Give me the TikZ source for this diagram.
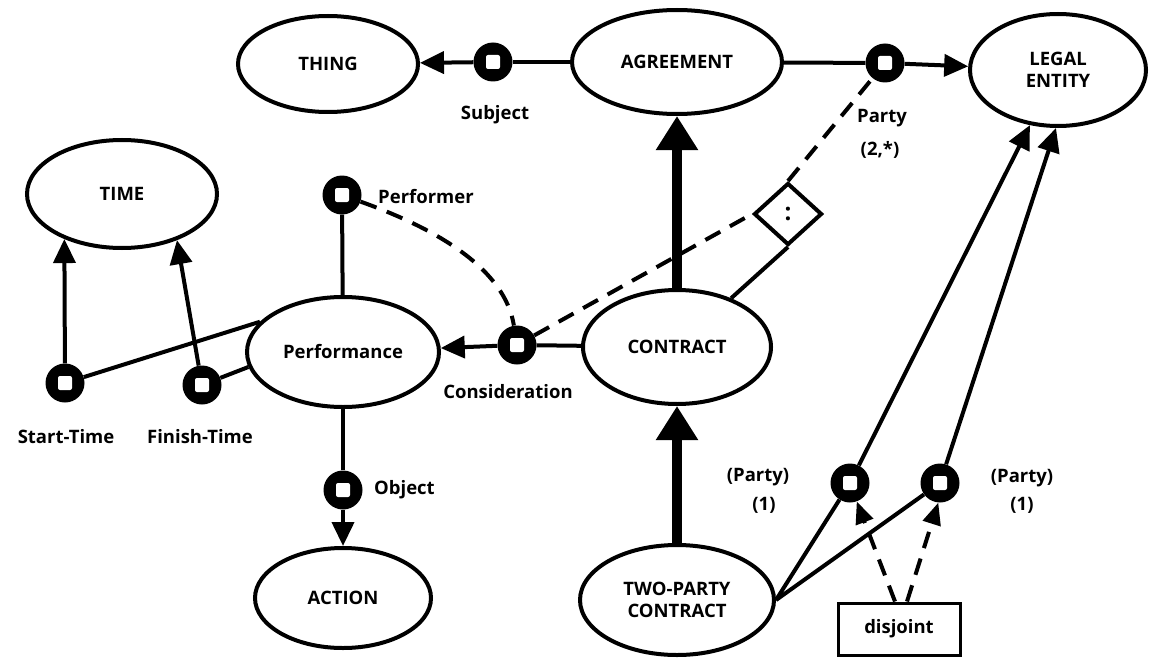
\documentclass[tikz,border=0pt]{standalone}
\usepackage{fontspec}
\setmainfont{Open Sans}
\usetikzlibrary{arrows.meta,shapes.geometric,calc}

\begin{document}
\begin{tikzpicture}[x=1pt,y=-1pt,
  txt/.style={font=\bfseries\fontsize{18.5}{22}\selectfont},
  lbl/.style={txt, inner sep=0pt},
  concept/.style={txt, draw, ellipse, line width=4pt, inner sep=0pt, align=center},
  role/.style={circle, fill=black, minimum size=39pt, inner sep=0pt,
    path picture={\fill[white,rounded corners=2pt]
      ([shift={(-7pt,-7pt)}]path picture bounding box.center) rectangle
      ([shift={(7pt,7pt)}]path picture bounding box.center);}},
  link/.style={line width=4pt},
  arr/.style={link, -{Triangle[length=24pt,width=22pt]}},
  isa/.style={line width=10.5pt, -{Triangle[length=34pt,width=40pt]}},
  dashline/.style={line width=4pt, dash pattern=on 17pt off 11pt},
  dasharr/.style={dashline, -{Triangle[length=22pt,width=18pt]}}]

% page
\fill[white] (0,0) rectangle (1161,658);
\useasboundingbox (0,0) rectangle (1161,658);

% concepts
\node[concept, minimum width=180pt, minimum height=96pt]  (thing) at (328,64)  {THING};
\node[concept, minimum width=210pt, minimum height=104pt] (agr)   at (677,62)  {AGREEMENT};
\node[concept, minimum width=176pt, minimum height=112pt] (le)    at (1058,70) {LEGAL\\ENTITY};
\node[concept, minimum width=190pt, minimum height=108pt] (time)  at (122,194) {TIME};
\node[concept, minimum width=192pt, minimum height=110pt] (perf)  at (343,352) {Performance};
\node[concept, minimum width=188pt, minimum height=114pt] (ct)    at (677,347) {CONTRACT};
\node[concept, minimum width=176pt, minimum height=100pt] (act)   at (343,598) {ACTION};
\node[concept, minimum width=194pt, minimum height=110pt] (tp)    at (677,600) {TWO-PARTY\\CONTRACT};

% relation (role) circles
\node[role] (subj) at (493,62)  {};
\node[role] (ptop) at (885,63)  {};
\node[role] (pfmr) at (342,195) {};
\node[role] (cons) at (517,345) {};
\node[role] (st)   at (65,383)  {};
\node[role] (ft)   at (202,385) {};
\node[role] (obj)  at (343,490) {};
\node[role] (pl)   at (850,483) {};
\node[role] (pr)   at (940,483) {};

% join diamond and disjointness box
\node[draw, diamond, line width=4pt, minimum width=68pt, minimum height=62pt, inner sep=0pt,
      font=\bfseries\fontsize{24}{24}\selectfont] (dm) at (788,214) {:};
\node[txt, draw, line width=3pt, minimum width=122pt, minimum height=52pt] (dj) at (899,629) {disjoint};

% AGREEMENT roles
\draw[link] (agr) -- (subj);
\draw[arr]  (subj) -- (thing);
\draw[link] (agr) -- (ptop);
\draw[arr]  (ptop) -- (le);

% subtype links
\draw[isa] (ct) -- (agr);
\draw[isa] (tp) -- (ct);

% CONTRACT / Performance
\draw[link] (ct) -- (cons);
\draw[arr]  (cons) -- (perf);
\draw[link] (perf) -- (pfmr);
\draw[dashline] (pfmr) .. controls (440,230) and (505,270) .. (cons);
\draw[dashline] (cons) -- (dm.west);
\draw[dashline] (dm.north) -- (ptop);
\draw[link] (dm.south) -- (ct);

% times
\draw[link] (st) -- (perf.160);
\draw[link] (ft) -- (perf.189);
\draw[arr]  (st) -- (time.-142);
\draw[arr]  (ft) -- (time.-40);

% object
\draw[link] (perf) -- (obj);
\draw[arr]  (obj) -- (act);

% two-party parties
\draw[link] (tp.east) -- (pl);
\draw[link] (tp.east) -- (pr);
\draw[arr]  (pl) -- (le.-117);
\draw[arr]  (pr) -- (le.-92);
\draw[dasharr] ([xshift=-4pt]dj.north) -- (pl.-70);
\draw[dasharr] ([xshift=8pt]dj.north) -- (pr.-95);

% labels
\node[lbl] (lsubj)   at (495,115) {Subject};
\node[lbl] (lparty)  at (882,118) {Party};
\node[lbl] (lpartyn) at (880,150) {(2,*)};
\node[lbl, anchor=west] (lpfmr) at (378,197) {Performer};
\node[lbl] (lcons)   at (508,392) {Consideration};
\node[lbl] (lst)     at (66,437)  {Start-Time};
\node[lbl] (lft)     at (200,437) {Finish-Time};
\node[lbl, anchor=west] (lobj) at (374,490) {Object};
\node[lbl] (lpl)     at (758,477) {(Party)};
\node[lbl] (lpln)    at (764,505) {(1)};
\node[lbl] (lpr)     at (1022,478) {(Party)};
\node[lbl] (lprn)    at (1022,505) {(1)};
\end{tikzpicture}
\end{document}
